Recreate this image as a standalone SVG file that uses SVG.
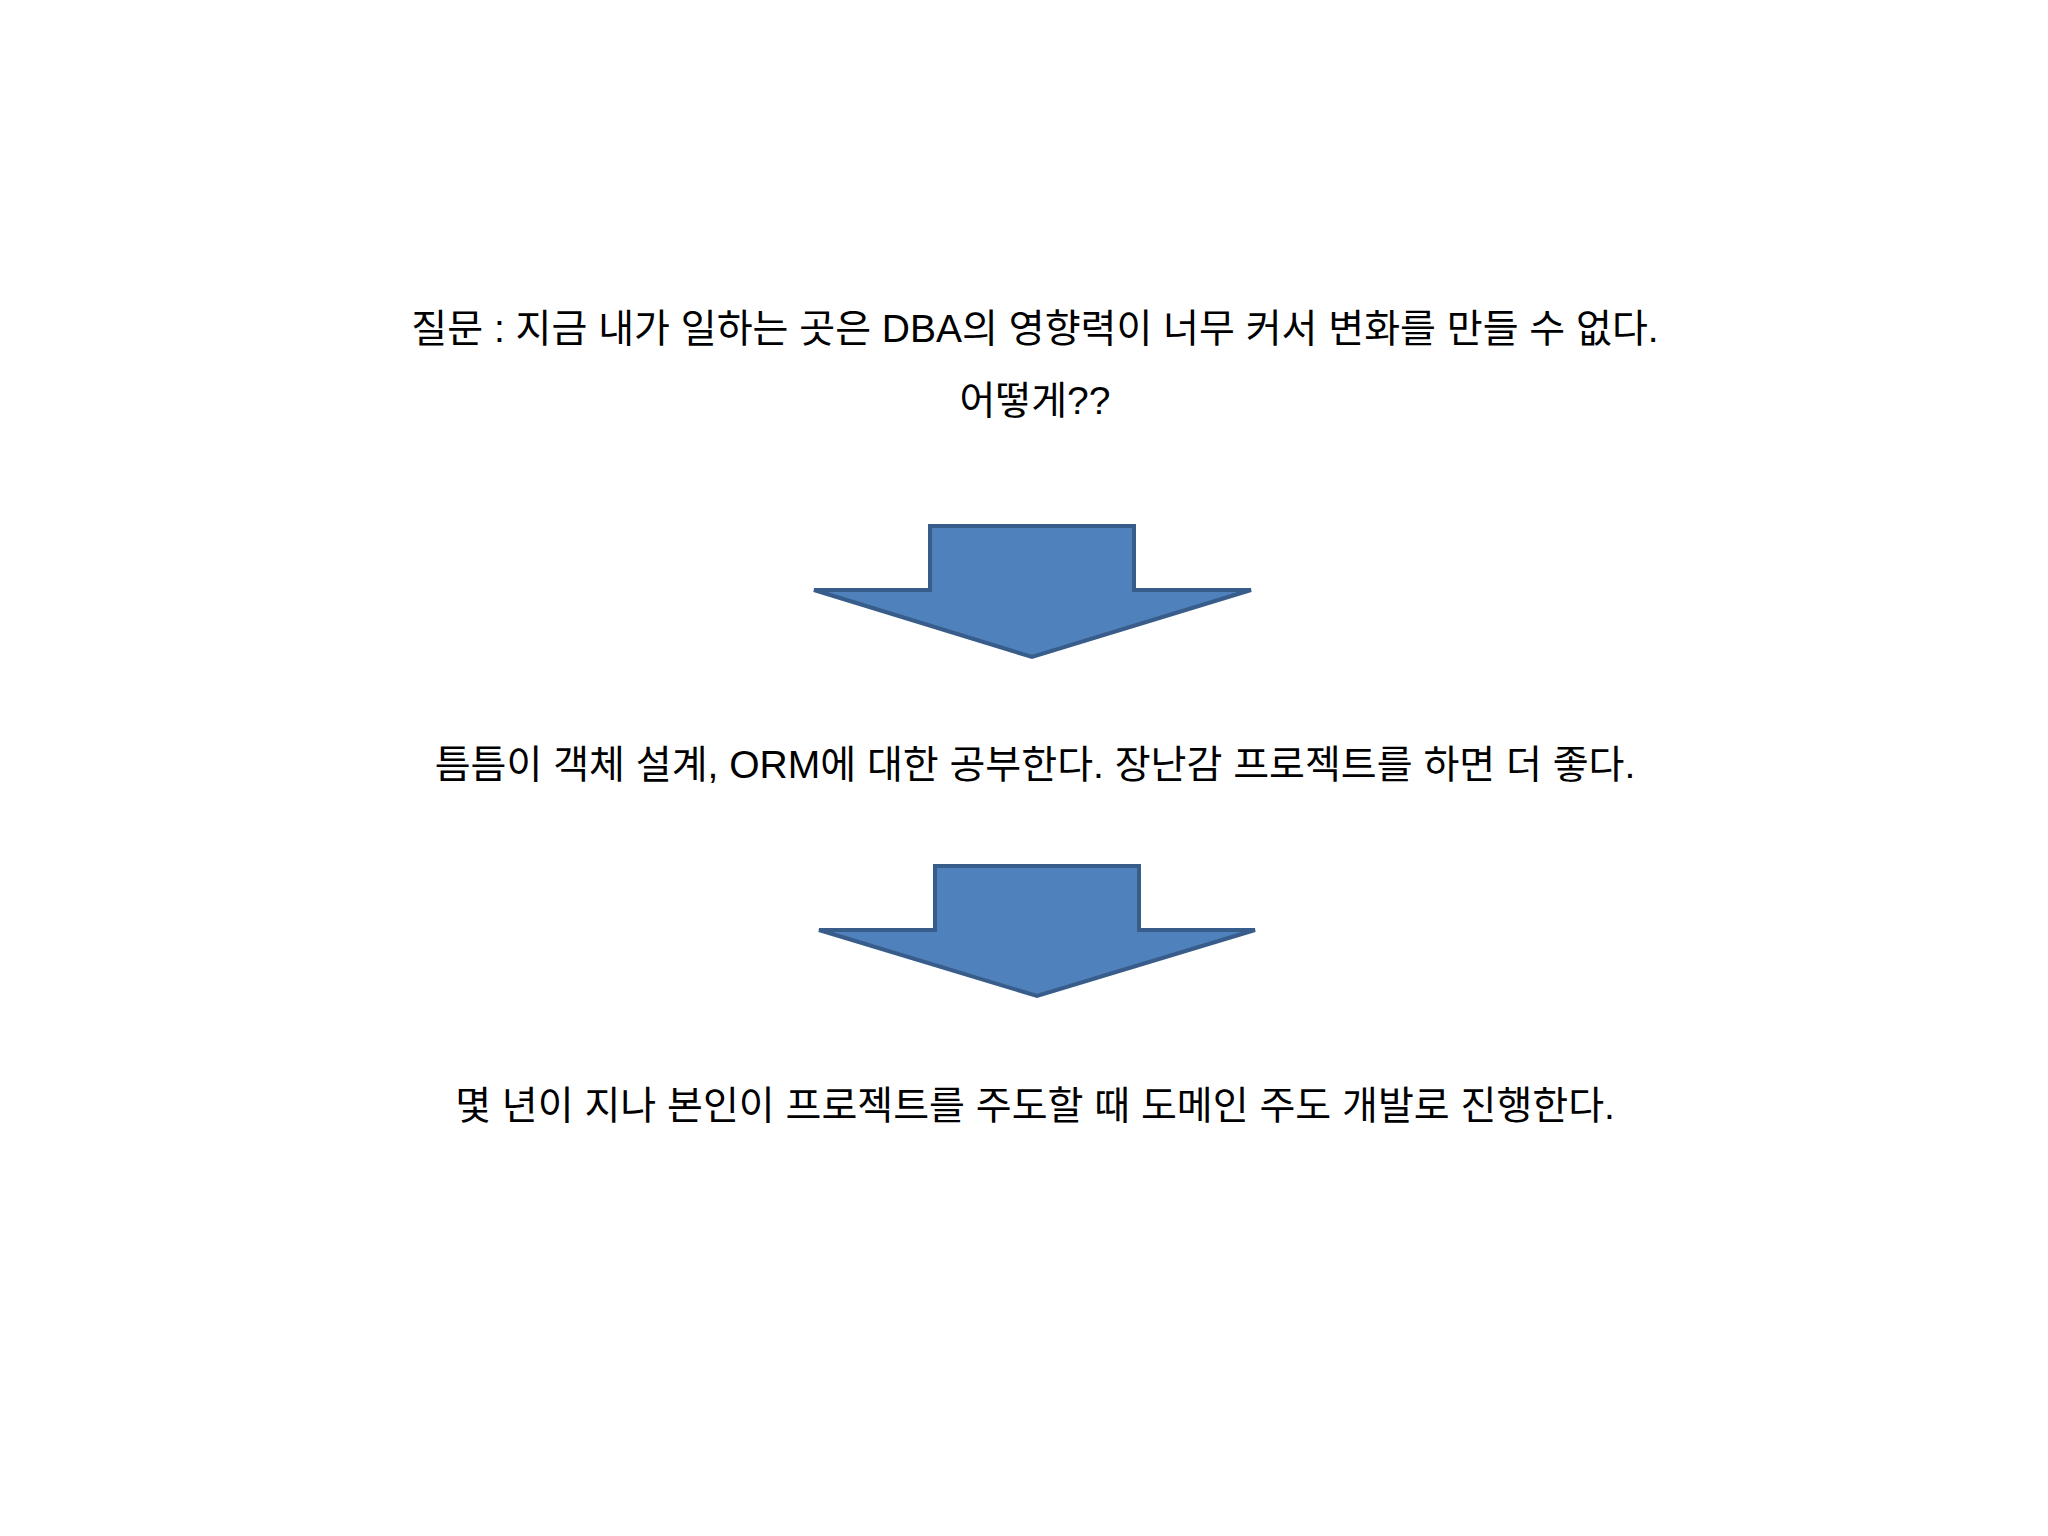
<svg xmlns="http://www.w3.org/2000/svg" width="2048" height="1536" viewBox="0 0 2048 1536">
<style>
text{font-family:"Liberation Sans","Noto Sans CJK KR",sans-serif;font-size:39px;fill:#000;text-anchor:middle}
.arr{fill:#4f81bd;stroke:#385d8a;stroke-width:4;stroke-linejoin:miter}
</style>
<rect width="2048" height="1536" fill="#fff"/>
<g id="q"><text x="1035" y="342">질문 : 지금 내가 일하는 곳은 DBA의 영향력이 너무 커서 변화를 만들 수 없다.</text>
<text x="1035" y="414">어떻게??</text></g>
<g id="a1"><text x="1035" y="778">틈틈이 객체 설계, ORM에 대한 공부한다. 장난감 프로젝트를 하면 더 좋다.</text></g>
<g id="a2"><text x="1035" y="1119">몇 년이 지나 본인이 프로젝트를 주도할 때 도메인 주도 개발로 진행한다.</text></g>
<g id="connectors">
<polygon class="arr" points="930,526 1134,526 1134,590 1251,590 1032,657 814,590 930,590"/>
<polygon class="arr" points="935,866 1139,866 1139,930 1255,930 1037,996 819,930 935,930"/>
</g>
</svg>
